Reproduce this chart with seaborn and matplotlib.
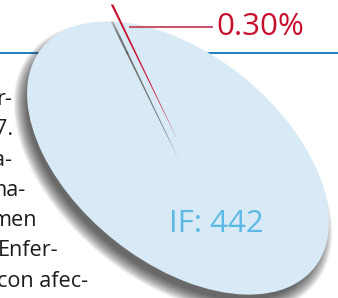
import matplotlib
matplotlib.use("Agg")
import matplotlib.pyplot as plt
import matplotlib.transforms as mtransforms
from matplotlib.patches import Ellipse, Wedge
import seaborn as sns

# pie data: share of the total (percent) and the label of each slice
slice_values = [99.70, 0.30]
slice_labels = ["IF: 442", "0.30%"]
slice_colors = ["#d7eaf6", "#c8102e"]

# running text of the page that wraps around the pie (cut at the left edge)
body_lines = ["r-", "7.", "a-", "na-", "men", "Enfer-", "con afec-"]
body_right = [12, 13, 12, 25, 37, 58, 88]

sns.set_theme(style="white")
plt.rcParams["font.family"] = ["Open Sans", "DejaVu Sans"]

fig = plt.figure(figsize=(3.38, 2.98), dpi=100)
ax = fig.add_axes([0, 0, 1, 1])

# ellipse seen in perspective: centre, semi axes, tilt; slice lifted up
cx, cy, A, B, tilt = 178, 158, 175, 104, 39
lift = 17
base = mtransforms.Affine2D().scale(A, B).rotate_deg(tilt).translate(cx, cy)

# blue rule of the page, behind the pie
ax.axhline(53, color="#1f7fc1", lw=1.4, zorder=1)

# soft shadow under the pie, cast down and to the left
for k in range(16):
    s = -5 + k * 0.9
    ax.add_patch(Ellipse((cx - 5, cy + 10), 2 * (A + s), 2 * (B + s), angle=tilt,
                         color="black", alpha=0.05, lw=0, zorder=2))

wedges, _ = ax.pie(slice_values, colors=slice_colors, startangle=218.94, counterclock=True,
                   wedgeprops=dict(linewidth=0), radius=1, center=(0, 0))
for w in wedges:
    w.set_transform(base + ax.transData)
    w.set_zorder(3)

big, small = wedges
# shadow left in the gap where the small slice sat
ax.add_patch(Wedge((0, 0), 1, small.theta1, small.theta2, color="#7d7d7d", alpha=0.6, lw=0,
                   transform=base + ax.transData, zorder=3.5))
small.set_transform(base + mtransforms.Affine2D().translate(0, -lift) + ax.transData)
small.set_zorder(4)

# leader line and labels
ax.plot([129, 213], [27, 27], color="#c9566c", lw=1.5, zorder=5, solid_capstyle="butt")
ax.text(216, 35, slice_labels[1], color="#c8102e", fontsize=22.5, ha="left", va="baseline", zorder=6)
ax.text(216.5, 232, slice_labels[0], color="#5cb9e6", fontsize=22.5, ha="center", va="baseline", zorder=6)

for i, (line, xr) in enumerate(zip(body_lines, body_right)):
    ax.text(xr, 105 + 30.3 * i, line, color="#1c1c1c", fontsize=15.6, ha="right", va="baseline",
            zorder=6)

ax.set_xlim(0, 338)
ax.set_ylim(298, 0)
ax.set_aspect("auto")
ax.axis("off")

fig.savefig("out.png", dpi=100)
